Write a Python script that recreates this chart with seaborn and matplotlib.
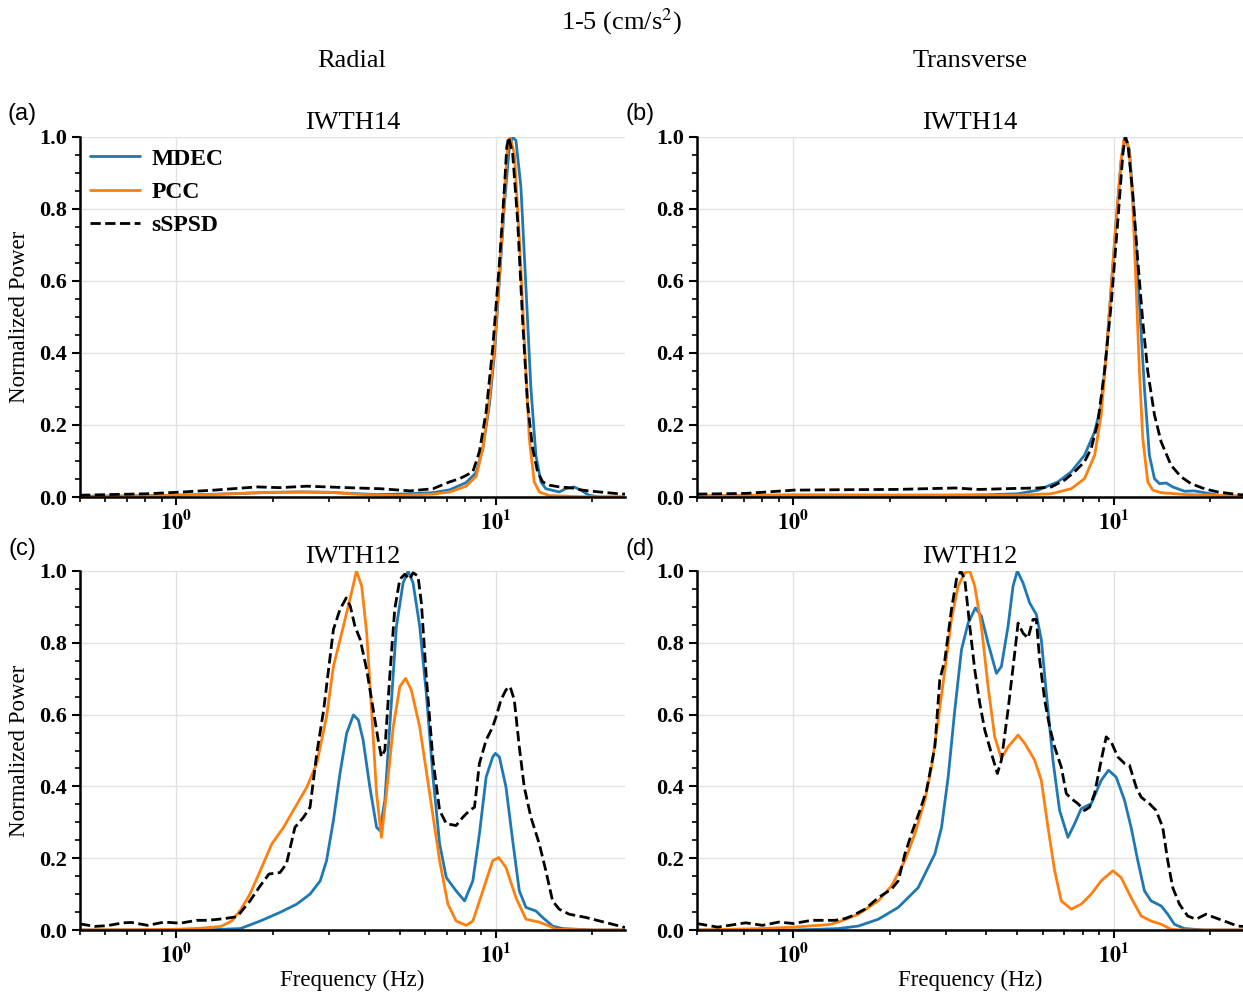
import matplotlib
matplotlib.use("Agg")
import matplotlib.pyplot as plt
import seaborn as sns
import numpy as np
from matplotlib.ticker import MultipleLocator, LogLocator, NullFormatter, FixedLocator

# ---------------- data ----------------
series_names = ["MDEC", "PCC", "sSPSD"]
panel_titles = ["IWTH14", "IWTH14", "IWTH12", "IWTH12"]
panel_tags = ["(a)", "(b)", "(c)", "(d)"]
column_titles = ["Radial", "Transverse"]
suptitle = "1-5 (cm/s$^2$)"

# panel (a) IWTH14 radial
a_mdec_f = [0.5, 0.7, 1.0, 1.5, 2.0, 2.5, 3.0, 3.5, 4.2, 5.0, 6.35, 7.16, 8.06, 8.67, 9.09, 9.53, 9.88, 10.24, 10.62, 11.0, 11.27, 11.54, 11.96, 12.40, 12.85, 13.32, 13.81, 14.31, 15.75, 16.52, 17.54, 18.39, 19.53, 21.0, 25.3]
a_mdec_v = [0.002, 0.003, 0.005, 0.009, 0.013, 0.014, 0.013, 0.010, 0.007, 0.008, 0.012, 0.020, 0.040, 0.068, 0.135, 0.256, 0.395, 0.600, 0.814, 0.972, 1.0, 0.99, 0.86, 0.581, 0.302, 0.116, 0.042, 0.023, 0.014, 0.023, 0.028, 0.019, 0.005, 0.0, 0.0]
a_pcc_f = [0.5, 0.8, 1.0, 1.3, 1.8, 2.4, 3.0, 3.8, 4.9, 6.35, 7.16, 8.06, 8.67, 9.09, 9.53, 9.88, 10.24, 10.62, 10.87, 11.06, 11.41, 11.82, 12.25, 12.70, 13.16, 13.65, 14.66, 18.0, 25.3]
a_pcc_v = [0.0, 0.003, 0.005, 0.007, 0.012, 0.014, 0.013, 0.007, 0.004, 0.008, 0.014, 0.030, 0.058, 0.135, 0.274, 0.414, 0.619, 0.842, 0.981, 1.0, 0.953, 0.721, 0.442, 0.163, 0.042, 0.014, 0.004, 0.001, 0.0]
a_sspsd_f = [0.5, 0.64, 0.81, 1.0, 1.31, 1.79, 2.11, 2.56, 3.41, 4.34, 5.38, 6.35, 7.16, 7.69, 8.06, 8.46, 8.87, 9.31, 9.76, 10.24, 10.62, 10.80, 10.95, 11.27, 11.68, 12.11, 12.55, 13.01, 13.48, 13.98, 14.66, 15.75, 17.33, 18.62, 21.0, 24.22, 25.3]
a_sspsd_v = [0.005, 0.007, 0.009, 0.013, 0.019, 0.028, 0.026, 0.030, 0.026, 0.023, 0.017, 0.023, 0.042, 0.051, 0.060, 0.070, 0.126, 0.237, 0.414, 0.647, 0.860, 0.972, 1.0, 0.953, 0.767, 0.488, 0.256, 0.135, 0.070, 0.042, 0.033, 0.028, 0.025, 0.019, 0.014, 0.009, 0.008]

# panel (b) IWTH14 transverse
b_mdec_f = [0.5, 1.0, 2.0, 3.0, 4.0, 5.02, 5.80, 6.69, 7.36, 8.10, 8.71, 9.13, 9.47, 9.81, 10.17, 10.54, 10.85, 11.19, 11.60, 12.02, 12.46, 12.91, 13.39, 13.88, 14.56, 15.27, 16.60, 17.84, 19.16, 21.09, 25.3]
b_mdec_v = [0.003, 0.005, 0.005, 0.005, 0.006, 0.009, 0.019, 0.042, 0.070, 0.116, 0.181, 0.256, 0.395, 0.581, 0.767, 0.935, 1.0, 0.963, 0.767, 0.535, 0.302, 0.116, 0.051, 0.037, 0.039, 0.028, 0.016, 0.017, 0.012, 0.005, 0.0]
b_pcc_f = [0.5, 1.0, 2.0, 4.0, 5.02, 6.38, 7.36, 8.10, 8.71, 9.13, 9.47, 9.81, 10.17, 10.54, 10.74, 10.92, 11.19, 11.46, 11.74, 12.02, 12.31, 12.76, 13.23, 14.05, 16.6, 25.3]
b_pcc_v = [0.004, 0.006, 0.005, 0.005, 0.005, 0.009, 0.023, 0.051, 0.116, 0.228, 0.395, 0.581, 0.767, 0.935, 0.991, 1.0, 0.953, 0.814, 0.581, 0.349, 0.163, 0.042, 0.019, 0.012, 0.007, 0.003]
b_sspsd_f = [0.5, 0.71, 1.0, 1.29, 2.08, 3.2, 3.79, 5.02, 5.80, 6.38, 7.02, 7.54, 8.10, 8.50, 8.92, 9.35, 9.81, 10.29, 10.67, 10.85, 11.06, 11.46, 11.88, 12.31, 12.76, 13.39, 14.05, 15.09, 16.21, 17.42, 19.16, 21.09, 24.34, 25.3]
b_sspsd_v = [0.008, 0.010, 0.019, 0.020, 0.021, 0.025, 0.021, 0.024, 0.025, 0.028, 0.047, 0.070, 0.098, 0.135, 0.209, 0.349, 0.535, 0.767, 0.953, 1.0, 0.981, 0.842, 0.656, 0.488, 0.349, 0.228, 0.153, 0.088, 0.056, 0.037, 0.023, 0.014, 0.007, 0.006]

# panel (c) IWTH12 radial
c_mdec_f = [0.5, 1.0, 1.3, 1.586, 1.83, 2.11, 2.38, 2.62, 2.82, 2.95, 3.10, 3.25, 3.41, 3.58, 3.71, 3.84, 4.03, 4.23, 4.33, 4.49, 4.65, 4.88, 5.12, 5.31, 5.50, 5.77, 6.05, 6.35, 6.66, 6.99, 7.50, 7.97, 8.46, 8.87, 9.31, 9.76, 9.95, 10.24, 10.74, 11.27, 11.82, 12.40, 13.32, 13.98, 15.02, 16.13, 20.0, 25.3]
c_mdec_v = [0.0, 0.0, 0.001, 0.004, 0.025, 0.049, 0.072, 0.100, 0.137, 0.193, 0.305, 0.436, 0.548, 0.599, 0.585, 0.529, 0.398, 0.286, 0.277, 0.361, 0.566, 0.846, 0.967, 1.0, 0.967, 0.846, 0.660, 0.426, 0.240, 0.146, 0.109, 0.081, 0.137, 0.268, 0.426, 0.482, 0.492, 0.482, 0.398, 0.249, 0.109, 0.063, 0.053, 0.035, 0.011, 0.004, 0.0, 0.0]
c_pcc_f = [0.5, 0.8, 1.0, 1.2, 1.38, 1.49, 1.586, 1.70, 1.82, 1.99, 2.165, 2.56, 2.75, 2.95, 3.10, 3.33, 3.53, 3.66, 3.80, 3.94, 4.08, 4.23, 4.38, 4.54, 4.77, 5.00, 5.21, 5.43, 5.77, 6.20, 6.66, 7.07, 7.50, 8.06, 8.46, 9.09, 9.76, 10.19, 10.74, 11.54, 12.40, 13.65, 14.66, 15.4, 20.0, 25.3]
c_pcc_v = [0.0, 0.001, 0.002, 0.005, 0.010, 0.025, 0.055, 0.100, 0.160, 0.240, 0.286, 0.398, 0.464, 0.594, 0.734, 0.846, 0.939, 1.0, 0.958, 0.827, 0.613, 0.380, 0.258, 0.380, 0.566, 0.678, 0.701, 0.669, 0.566, 0.380, 0.193, 0.072, 0.025, 0.013, 0.025, 0.109, 0.193, 0.202, 0.174, 0.090, 0.030, 0.022, 0.011, 0.002, 0.0, 0.0]
c_sspsd_f = [0.5, 0.556, 0.607, 0.683, 0.724, 0.814, 0.916, 1.03, 1.158, 1.26, 1.42, 1.55, 1.70, 1.83, 1.95, 2.11, 2.21, 2.35, 2.50, 2.62, 2.75, 2.89, 3.10, 3.25, 3.40, 3.50, 3.62, 3.76, 3.94, 4.13, 4.28, 4.38, 4.49, 4.65, 4.82, 5.00, 5.18, 5.37, 5.50, 5.70, 5.84, 6.05, 6.35, 6.66, 6.99, 7.50, 7.87, 8.26, 8.56, 8.87, 9.31, 9.76, 10.0, 10.36, 10.74, 11.06, 11.40, 11.82, 12.25, 12.85, 13.65, 14.31, 15.02, 15.75, 16.93, 19.06, 21.99, 25.3]
c_sspsd_v = [0.017, 0.010, 0.012, 0.020, 0.021, 0.013, 0.022, 0.019, 0.027, 0.027, 0.032, 0.037, 0.081, 0.123, 0.156, 0.160, 0.184, 0.286, 0.314, 0.342, 0.492, 0.613, 0.837, 0.893, 0.925, 0.902, 0.846, 0.809, 0.725, 0.613, 0.529, 0.482, 0.501, 0.706, 0.893, 0.977, 0.991, 0.977, 0.995, 0.986, 0.911, 0.706, 0.473, 0.333, 0.296, 0.291, 0.314, 0.333, 0.342, 0.464, 0.529, 0.566, 0.594, 0.641, 0.669, 0.678, 0.641, 0.510, 0.398, 0.314, 0.240, 0.165, 0.081, 0.058, 0.044, 0.035, 0.021, 0.007]

# panel (d) IWTH12 transverse
d_mdec_f = [0.5, 1.0, 1.2, 1.381, 1.594, 1.840, 2.124, 2.451, 2.763, 2.899, 3.040, 3.189, 3.346, 3.509, 3.699, 3.860, 4.050, 4.300, 4.457, 4.675, 4.846, 4.998, 5.206, 5.461, 5.728, 5.937, 6.156, 6.455, 6.772, 7.190, 7.543, 7.910, 8.501, 9.132, 9.625, 10.17, 10.80, 11.32, 11.88, 12.46, 13.07, 14.05, 14.73, 15.45, 16.60, 19.16, 25.3]
d_mdec_v = [0.0, 0.0, 0.002, 0.004, 0.011, 0.030, 0.063, 0.118, 0.212, 0.286, 0.426, 0.613, 0.781, 0.855, 0.897, 0.874, 0.799, 0.715, 0.734, 0.846, 0.958, 1.0, 0.967, 0.911, 0.879, 0.809, 0.660, 0.473, 0.333, 0.258, 0.296, 0.338, 0.352, 0.417, 0.445, 0.426, 0.361, 0.286, 0.193, 0.109, 0.081, 0.067, 0.044, 0.016, 0.004, 0.0, 0.0]
d_pcc_f = [0.5, 0.8, 1.0, 1.29, 1.381, 1.594, 1.840, 2.024, 2.228, 2.393, 2.571, 2.698, 2.830, 2.969, 3.113, 3.266, 3.425, 3.551, 3.680, 3.860, 4.050, 4.248, 4.457, 4.675, 5.024, 5.269, 5.661, 5.937, 6.230, 6.534, 6.853, 7.364, 7.910, 8.501, 9.132, 9.929, 10.54, 11.32, 12.17, 13.07, 14.05, 15.09, 16.21, 25.3]
d_pcc_v = [0.0, 0.004, 0.008, 0.015, 0.022, 0.044, 0.081, 0.123, 0.193, 0.268, 0.361, 0.454, 0.585, 0.725, 0.865, 0.958, 0.995, 1.0, 0.958, 0.846, 0.678, 0.538, 0.478, 0.510, 0.543, 0.520, 0.473, 0.417, 0.286, 0.165, 0.081, 0.058, 0.072, 0.100, 0.137, 0.165, 0.146, 0.090, 0.039, 0.025, 0.016, 0.002, 0.0, 0.0]
d_sspsd_f = [0.5, 0.58, 0.71, 0.80, 0.90, 1.0, 1.14, 1.35, 1.45, 1.520, 1.672, 1.840, 2.024, 2.124, 2.228, 2.336, 2.481, 2.602, 2.763, 2.862, 2.969, 3.113, 3.227, 3.330, 3.425, 3.551, 3.680, 3.815, 3.955, 4.148, 4.330, 4.457, 4.675, 4.904, 5.024, 5.206, 5.396, 5.594, 5.728, 5.867, 6.081, 6.304, 6.534, 6.853, 7.106, 7.364, 7.726, 8.101, 8.398, 8.706, 9.132, 9.465, 9.811, 10.29, 10.80, 11.19, 11.74, 12.17, 12.91, 13.55, 14.21, 14.73, 15.27, 16.02, 17.00, 18.05, 19.39, 20.59, 22.12, 24.34, 25.3]
d_sspsd_v = [0.018, 0.008, 0.020, 0.013, 0.022, 0.018, 0.027, 0.027, 0.032, 0.039, 0.058, 0.090, 0.114, 0.137, 0.212, 0.268, 0.333, 0.389, 0.510, 0.697, 0.753, 0.893, 0.977, 1.0, 0.977, 0.846, 0.725, 0.632, 0.557, 0.492, 0.436, 0.473, 0.613, 0.771, 0.855, 0.827, 0.813, 0.865, 0.865, 0.753, 0.641, 0.566, 0.510, 0.454, 0.380, 0.366, 0.352, 0.333, 0.342, 0.380, 0.473, 0.538, 0.524, 0.482, 0.464, 0.459, 0.398, 0.370, 0.352, 0.333, 0.286, 0.193, 0.118, 0.072, 0.039, 0.030, 0.044, 0.035, 0.025, 0.011, 0.010]

panels = [
    [(a_mdec_f, a_mdec_v), (a_pcc_f, a_pcc_v), (a_sspsd_f, a_sspsd_v)],
    [(b_mdec_f, b_mdec_v), (b_pcc_f, b_pcc_v), (b_sspsd_f, b_sspsd_v)],
    [(c_mdec_f, c_mdec_v), (c_pcc_f, c_pcc_v), (c_sspsd_f, c_sspsd_v)],
    [(d_mdec_f, d_mdec_v), (d_pcc_f, d_pcc_v), (d_sspsd_f, d_sspsd_v)],
]
for p in panels:
    for f, v in p:
        assert len(f) == len(v), (len(f), len(v))

# ---------------- style ----------------
sns.set_style("ticks")
plt.rcParams['font.family'] = ['Liberation Serif', 'DejaVu Serif']
plt.rcParams['mathtext.fontset'] = 'stix'
for k in ['text.color', 'axes.labelcolor', 'xtick.color', 'ytick.color', 'axes.edgecolor']:
    plt.rcParams[k] = 'black'

colors = ['#1f77b4', '#ff7f0e', 'black']
styles = ['-', '-', '--']

W, H = 1243, 997
fig = plt.figure(figsize=(W / 100, H / 100), dpi=100)


def axpos(l, t, r, b):
    return [l / W, 1 - b / H, (r - l) / W, (b - t) / H]


boxes = [(80, 137, 625, 497), (697, 137, 1243, 497),
         (80, 571, 625, 930), (697, 571, 1243, 930)]
tag_pos = [(22, 114), (640, 114), (22, 549), (640, 549)]

for i, (box, series) in enumerate(zip(boxes, panels)):
    ax = fig.add_axes(axpos(*box))
    for (f, v), name, col, ls in zip(series, series_names, colors, styles):
        sns.lineplot(x=f, y=v, ax=ax, color=col, linestyle=ls, linewidth=2,
                     label=name, estimator=None, sort=False)
    ax.set_xscale('log')
    ax.set_xlim(0.5, 25.3)
    ax.set_ylim(0, 1.0)
    for s in ['top', 'right']:
        ax.spines[s].set_visible(False)
    for s in ['left', 'bottom']:
        ax.spines[s].set_linewidth(1.8)
        ax.spines[s].set_color('black')
    ax.xaxis.set_major_locator(FixedLocator([1, 10]))
    ax.set_xticklabels([r'$\mathbf{10^{0}}$', r'$\mathbf{10^{1}}$'])
    ax.xaxis.set_minor_locator(LogLocator(base=10, subs=np.arange(2, 10)))
    ax.xaxis.set_minor_formatter(NullFormatter())
    ax.yaxis.set_minor_locator(MultipleLocator(0.05))
    yt = np.arange(0, 1.01, 0.2)
    ax.set_yticks(yt)
    ax.set_yticklabels([f"{t:.1f}" for t in yt], fontweight='bold')
    ax.tick_params(axis='both', which='major', labelsize=16, length=6, width=1.5,
                   color='black', labelcolor='black')
    ax.tick_params(axis='both', which='minor', length=3.5, width=1.2, color='black')
    ax.grid(True, which='major', color='#e2e2e2', linewidth=1)
    ax.set_axisbelow(True)
    ax.set_title(panel_titles[i], fontsize=19, pad=6, color='black')
    leg = ax.get_legend()
    if leg is not None:
        leg.remove()
    if i == 0:
        ax.legend(loc='upper left', bbox_to_anchor=(-0.020, 1.028), frameon=False,
                  prop={'weight': 'bold', 'size': 17, 'family': 'Liberation Serif'},
                  handlelength=2.1, labelspacing=0.5, handletextpad=0.5,
                  labelcolor='black')
    if i in (0, 2):
        ax.set_ylabel('Normalized Power', fontsize=16.5)
        ax.yaxis.set_label_coords(-(box[0] - 30) / (box[2] - box[0]), 0.5)
    else:
        ax.set_ylabel('')
    if i in (2, 3):
        ax.set_xlabel('Frequency (Hz)', fontsize=16.5)
        ax.xaxis.set_label_coords(0.5, -(970 - 930) / (930 - 571))
    else:
        ax.set_xlabel('')
    fig.text(tag_pos[i][0] / W, 1 - tag_pos[i][1] / H, panel_tags[i],
             fontsize=17, family='Liberation Sans', ha='center', va='center')

fig.text(352 / W, 1 - 61 / H, column_titles[0], fontsize=19, ha='center', va='center')
fig.text(970 / W, 1 - 61 / H, column_titles[1], fontsize=19, ha='center', va='center')
fig.text(621 / W, 1 - 22 / H, suptitle, fontsize=19, ha='center', va='center')

fig.savefig('out.png', dpi=100)
